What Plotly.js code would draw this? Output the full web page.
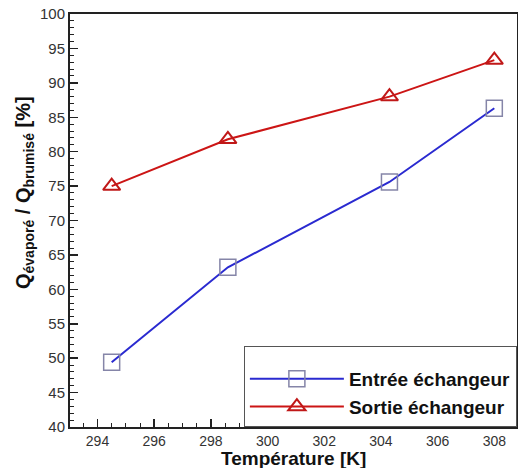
<!DOCTYPE html>
<html>
<head>
<meta charset="utf-8">
<script src="https://cdn.plot.ly/plotly-3.0.1.min.js"></script>
<style>html,body{margin:0;padding:0;background:#fff;overflow:hidden}</style>
</head>
<body>
<div id="chart" style="width:518px;height:468px"></div>
<script>
const temperature = [294.5, 298.6, 304.3, 308.0];
const entree = [49.4, 63.2, 75.6, 86.3];
const sortie = [75.0, 81.8, 88.0, 93.3];
const seriesNames = ["Entrée échangeur", "Sortie échangeur"];
const xTicks = [294, 296, 298, 300, 302, 304, 306, 308];
const yTicks = [40, 45, 50, 55, 60, 65, 70, 75, 80, 85, 90, 95, 100];
const xTitle = "Température [K]";

const traces = [
  {
    x: temperature, y: entree, name: seriesNames[0], type: "scatter", mode: "lines+markers",
    line: {color: "#2a2ad0", width: 2},
    marker: {symbol: "square-open", size: 16, color: "#8585a8", line: {width: 1.5, color: "#8585a8"}}
  },
  {
    x: temperature, y: sortie, name: seriesNames[1], type: "scatter", mode: "lines+markers",
    line: {color: "#cc1515", width: 2},
    marker: {symbol: "triangle-up-open", size: 15, color: "#c01818", line: {width: 2, color: "#c01818"}}
  }
];

const layout = {
  width: 518, height: 468,
  margin: {l: 70, r: 1, t: 14, b: 41},
  paper_bgcolor: "#fff", plot_bgcolor: "#fff",
  font: {family: "Liberation Sans, Arial, sans-serif", color: "#333"},
  showlegend: true,
  legend: {
    x: 0.389, xanchor: "left", y: 0, yanchor: "bottom",
    bgcolor: "#fff", bordercolor: "#555", borderwidth: 1,
    font: {size: 19, color: "#111", family: "Liberation Sans, Arial, sans-serif", weight: "bold"},
    title: {text: "&nbsp;", font: {size: 10}},
    itemwidth: 94, tracegroupgap: 0
  },
  annotations: [{
    text: xTitle, xref: "paper", yref: "paper", x: 0.5, y: -0.104,
    xanchor: "center", yanchor: "bottom", showarrow: false, borderpad: 0,
    font: {size: 19, color: "#111", weight: "bold", family: "Liberation Sans, Arial, sans-serif"}
  }],
  xaxis: {
    range: [293.03, 308.8],
    tickvals: xTicks, ticktext: xTicks.map(String),
    ticks: "inside", ticklen: 8, tickwidth: 1.5, tickcolor: "#222",
    minor: {dtick: 0.5, ticks: "inside", ticklen: 4, tickcolor: "#222", tickwidth: 1},
    showline: true, linecolor: "#222", linewidth: 2, mirror: true,
    showgrid: false, zeroline: false,
    tickfont: {size: 14, color: "#333"}
  },
  yaxis: {
    range: [40, 100],
    tickvals: yTicks, ticktext: yTicks.map(String),
    ticks: "inside", ticklen: 8, tickwidth: 1.5, tickcolor: "#222",
    minor: {dtick: 1, ticks: "inside", ticklen: 4, tickcolor: "#222", tickwidth: 1},
    showline: true, linecolor: "#222", linewidth: 2, mirror: true,
    showgrid: false, zeroline: false,
    tickfont: {size: 15, color: "#333"},
    title: {text: "&nbsp;&nbsp;&nbsp;&nbsp;&nbsp;&nbsp;&nbsp;&nbsp;&nbsp;&nbsp;Q<sub>évaporé</sub> / Q<sub>brumisé</sub> [%]", font: {size: 20, color: "#111", weight: "bold"}, standoff: 4}
  }
};

Plotly.newPlot("chart", traces, layout, {displayModeBar: false, staticPlot: true});
</script>
</body>
</html>
